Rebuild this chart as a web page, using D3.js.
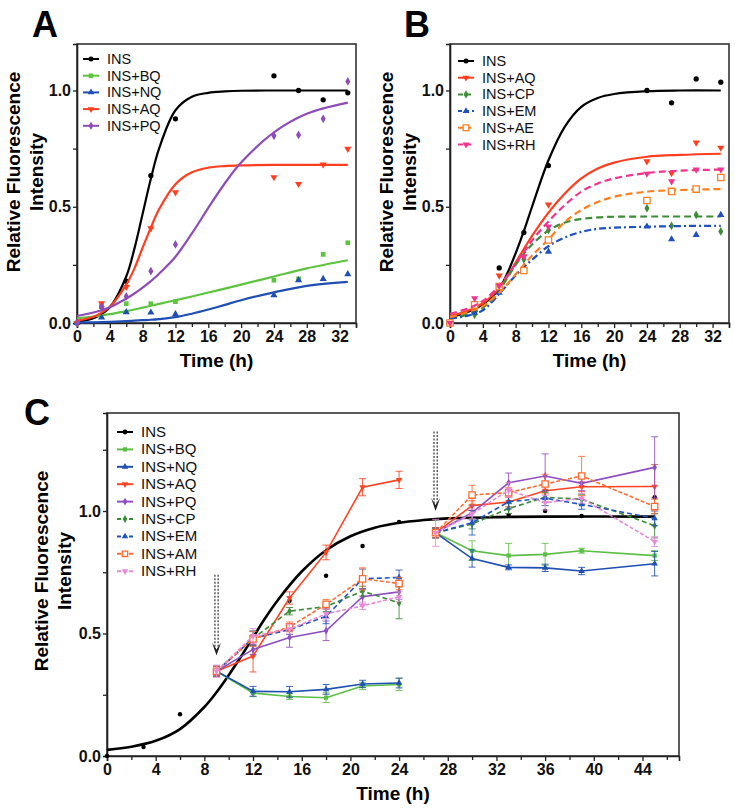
<!DOCTYPE html>
<html>
<head>
<meta charset="utf-8">
<script src="https://cdn.jsdelivr.net/npm/d3@7"></script>
<style>
  body { margin: 0; background: #fff; }
  svg { display: block; font-family: Arial, "Liberation Sans", sans-serif; }
</style>
</head>
<body>
<svg id="fig" width="735" height="811"></svg>
<script>
// ---------- data ----------
var timesAB = [0, 3, 6, 9, 12, 24, 27, 30, 33]
var fitT = [0, 2, 4, 6, 7, 8, 9, 10, 12, 14, 16, 18, 20, 24, 28, 33]

// panel A, measured points
var insA = [0, 0.07, 0.18, 0.634, 0.878, 1.063, 1.0, 0.96, 0.99]
var bqA = [0, 0.073, 0.083, 0.083, 0.092, 0.184, 0.19, 0.295, 0.345]
var nqA = [0, 0.024, 0.047, 0.045, 0.038, 0.12, 0.184, 0.19, 0.21]
var aqA = [0, 0.085, 0.155, 0.407, 0.562, 0.627, 0.598, 0.682, 0.749]
var pqA = [0, 0.07, 0.115, 0.223, 0.338, 0.805, 0.809, 0.878, 1.039]
// panel A, fitted curves sampled at fitT
var insFitA = [0.006, 0.02, 0.068, 0.2, 0.32, 0.47, 0.62, 0.75, 0.915, 0.973, 0.99, 0.996, 0.999, 1, 1, 1]
var bqFitA = [0.02, 0.028, 0.038, 0.051, 0.058, 0.066, 0.074, 0.082, 0.098, 0.114, 0.131, 0.148, 0.165, 0.2, 0.235, 0.27]
var nqFitA = [0.002, 0.003, 0.005, 0.008, 0.01, 0.012, 0.014, 0.017, 0.025, 0.04, 0.058, 0.078, 0.098, 0.132, 0.16, 0.177]
var aqFitA = [0.01, 0.027, 0.07, 0.165, 0.235, 0.324, 0.41, 0.489, 0.597, 0.648, 0.668, 0.675, 0.678, 0.68, 0.68, 0.68]
var pqFitA = [0.03, 0.045, 0.068, 0.105, 0.127, 0.152, 0.18, 0.212, 0.285, 0.385, 0.495, 0.6, 0.69, 0.82, 0.9, 0.948]

// panel B, measured points
var insB = [0, 0.05, 0.237, 0.389, 0.677, 1.0, 0.947, 1.05, 1.036]
var aqB = [0, 0.07, 0.204, 0.286, 0.509, 0.695, 0.645, 0.776, 0.754]
var cpB = [0, 0.035, 0.157, 0.274, 0.4, 0.494, 0.418, 0.465, 0.394]
var emB = [0, 0.044, 0.13, 0.24, 0.307, 0.415, 0.36, 0.379, 0.465]
var aeB = [0, 0.078, 0.157, 0.226, 0.357, 0.527, 0.566, 0.576, 0.626]
var rhB = [0, 0.106, 0.16, 0.286, 0.415, 0.642, 0.609, 0.66, 0.66]
// panel B, fitted curves
var insFitB = [0.025, 0.045, 0.08, 0.148, 0.215, 0.3, 0.395, 0.5, 0.7, 0.845, 0.93, 0.968, 0.985, 0.997, 1, 1]
var aqFitB = [0.03, 0.05, 0.085, 0.15, 0.2, 0.26, 0.318, 0.375, 0.475, 0.557, 0.622, 0.665, 0.69, 0.715, 0.723, 0.728]
var cpFitB = [0.019, 0.035, 0.065, 0.14, 0.195, 0.25, 0.298, 0.338, 0.398, 0.432, 0.447, 0.454, 0.457, 0.458, 0.458, 0.458]
var emFitB = [0.019, 0.03, 0.055, 0.125, 0.165, 0.205, 0.24, 0.272, 0.33, 0.368, 0.392, 0.405, 0.41, 0.414, 0.417, 0.418]
var aeFitB = [0.025, 0.045, 0.072, 0.13, 0.168, 0.21, 0.25, 0.29, 0.36, 0.435, 0.486, 0.52, 0.543, 0.565, 0.572, 0.576]
var rhFitB = [0.04, 0.06, 0.095, 0.159, 0.205, 0.255, 0.305, 0.355, 0.437, 0.507, 0.565, 0.6, 0.622, 0.645, 0.655, 0.66]

// panel C
var tInsC = [0, 3, 6, 15, 18, 21, 24, 33, 36, 39, 45]
var insC = [0, 0.037, 0.17, 0.634, 0.736, 0.857, 0.955, 0.984, 1.0, 0.98, 1.056]
var fitTC = [0, 2, 4, 6, 8, 9, 10, 11, 12, 13, 14, 16, 18, 20, 22, 24, 26, 28, 32, 36, 45]
var insFitC = [0.025, 0.038, 0.062, 0.11, 0.2, 0.26, 0.33, 0.405, 0.484, 0.563, 0.634, 0.753, 0.84, 0.897, 0.932, 0.952, 0.963, 0.97, 0.975, 0.977, 0.977]

var tC1 = [9, 12, 15, 18, 21, 24]
var tC2 = [27, 30, 33, 36, 39, 45]
var bqC1 = [0.346, 0.257, 0.243, 0.238, 0.286, 0.292], bqE1 = [0.02, 0.015, 0.012, 0.02, 0.015, 0.025]
var nqC1 = [0.346, 0.264, 0.262, 0.272, 0.294, 0.298], nqE1 = [0.02, 0.02, 0.022, 0.02, 0.015, 0.02]
var aqC1 = [0.346, 0.408, 0.645, 0.831, 1.097, 1.127], aqE1 = [0.02, 0.065, 0.025, 0.03, 0.035, 0.035]
var pqC1 = [0.346, 0.435, 0.484, 0.511, 0.65, 0.67], pqE1 = [0.02, 0.02, 0.04, 0.04, 0.03, 0.03]
var cpC1 = [0.346, 0.48, 0.591, 0.61, 0.673, 0.625], cpE1 = [0.02, 0.03, 0.015, 0.02, 0.02, 0.065]
var emC1 = [0.346, 0.48, 0.516, 0.57, 0.723, 0.729], emE1 = [0.02, 0.03, 0.02, 0.03, 0.04, 0.03]
var amC1 = [0.346, 0.478, 0.527, 0.619, 0.723, 0.704], amE1 = [0.02, 0.03, 0.02, 0.02, 0.045, 0.025]
var rhC1 = [0.346, 0.49, 0.518, 0.58, 0.613, 0.65], rhE1 = [0.025, 0.03, 0.02, 0.02, 0.015, 0.02]

var bqC2 = [0.911, 0.838, 0.818, 0.823, 0.838, 0.818], bqE2 = [0.02, 0.04, 0.05, 0.045, 0.01, 0.02]
var nqC2 = [0.911, 0.806, 0.77, 0.768, 0.755, 0.785], nqE2 = [0.02, 0.035, 0.01, 0.015, 0.015, 0.05]
var aqC2 = [0.911, 1.022, 1.037, 1.083, 1.099, 1.1], aqE2 = [0.02, 0.02, 0.02, 0.03, 0.02, 0.09]
var pqC2 = [0.911, 0.993, 1.115, 1.143, 1.113, 1.178], pqE2 = [0.02, 0.03, 0.04, 0.09, 0.03, 0.125]
var cpC2 = [0.911, 0.947, 1.01, 1.056, 1.048, 0.94], cpE2 = [0.02, 0.02, 0.02, 0.02, 0.02, 0.05]
var emC2 = [0.911, 0.952, 1.038, 1.052, 1.027, 0.97], emE2 = [0.02, 0.05, 0.03, 0.03, 0.02, 0.03]
var amC2 = [0.911, 1.065, 1.075, 1.11, 1.143, 1.018], amE2 = [0.02, 0.04, 0.02, 0.04, 0.08, 0.03]
var rhC2 = [0.911, 0.988, 1.085, 1.034, 1.052, 0.875], rhE2 = [0.055, 0.02, 0.03, 0.03, 0.02, 0.02]

// dotted arrows in C (time, start value, tip value)
var arrowsC = [[9, 0.74, 0.41], [27, 1.325, 1.0]]

var xTicksAB = [0, 4, 8, 12, 16, 20, 24, 28, 32]
var xTicksC = [0, 4, 8, 12, 16, 20, 24, 28, 32, 36, 40, 44]

// ---------- drawing ----------
const svg = d3.select('#fig')
const smooth = d3.curveCatmullRom.alpha(0.5)

function symPath(type, size) {
    var types = { circle: d3.symbolCircle, square: d3.symbolSquare, tri: d3.symbolTriangle,
                  down: d3.symbolTriangle, diamond: d3.symbolDiamond }
    return d3.symbol().type(types[type]).size(size)()
}

function marker(g, type, cx, cy, color, size, hollow) {
    g.append("path")
        .attr("d", symPath(type, size))
        .attr("transform", "translate(" + cx + "," + cy + ")" + (type == "down" ? " rotate(180)" : ""))
        .attr("fill", hollow ? "#fff" : color)
        .attr("stroke", hollow ? color : "none")
        .attr("stroke-width", 1.3)
}

function frameAndAxes(g, x, y, xMajor, yMajor, yMinor) {
    var xr = x.range(), yr = y.range()
    var xMinor = xMajor.map(d => d + 2).filter(d => d <= x.domain()[1])

    g.append("rect")
        .attr("x", xr[0]).attr("y", yr[1])
        .attr("width", xr[1] - xr[0]).attr("height", yr[0] - yr[1])
        .attr("fill", "none").attr("stroke", "#333").attr("stroke-width", 1.6)

    var ax = g.append("g").attr("transform", "translate(0," + yr[0] + ")")
        .call(d3.axisBottom(x).tickValues(xMajor).tickSize(5).tickPadding(3).tickFormat(d3.format("d")))
    g.append("g").attr("transform", "translate(0," + yr[0] + ")")
        .call(d3.axisBottom(x).tickValues(xMinor).tickSize(4).tickFormat(""))
        .call(s => s.select(".domain").remove())
    var ay = g.append("g").attr("transform", "translate(" + xr[0] + ",0)")
        .call(d3.axisLeft(y).tickValues(yMajor).tickSize(4).tickPadding(2).tickFormat(d3.format(".1f")))
    g.append("g").attr("transform", "translate(" + xr[0] + ",0)")
        .call(d3.axisLeft(y).tickValues(yMinor).tickSize(4).tickFormat(""))
        .call(s => s.select(".domain").remove())

    g.selectAll(".domain").attr("stroke", "#222").attr("stroke-width", 1.6)
    g.selectAll(".tick line").attr("stroke", "#222").attr("stroke-width", 1.3)
    ax.selectAll("text").attr("font-size", 16).attr("font-weight", "bold").attr("fill", "#111")
        .attr("font-family", "Arial, Liberation Sans, sans-serif")
    ay.selectAll("text").attr("font-size", 16).attr("font-weight", "bold").attr("fill", "#111")
        .attr("font-family", "Arial, Liberation Sans, sans-serif")
}

function labels(letter, lx, ly, yl1, yl2, ycen, xcen, xb) {
    svg.append("text").attr("x", lx).attr("y", ly).text(letter)
        .attr("font-size", 36).attr("font-weight", "bold")
    svg.append("text").attr("transform", "translate(" + yl1 + "," + ycen + ") rotate(-90)")
        .attr("text-anchor", "middle").attr("font-size", 19).attr("font-weight", "bold")
        .text("Relative Fluorescence")
    svg.append("text").attr("transform", "translate(" + yl2 + "," + ycen + ") rotate(-90)")
        .attr("text-anchor", "middle").attr("font-size", 19).attr("font-weight", "bold")
        .text("Intensity")
    svg.append("text").attr("x", xcen).attr("y", xb).attr("text-anchor", "middle")
        .attr("font-size", 19).attr("font-weight", "bold").text("Time (h)")
}

function legend(g, series, x0, y0, step, fs, msize) {
    series.forEach(function(s, i) {
        var yy = y0 + i * step
        g.append("line").attr("x1", x0).attr("x2", x0 + 16).attr("y1", yy).attr("y2", yy)
            .attr("stroke", s.color).attr("stroke-width", 2)
            .attr("stroke-dasharray", s.dash ? s.legDash || "4,2" : null)
        marker(g, s.sym, x0 + 8, yy, s.color, s.hollow ? msize * 1.6 : msize, s.hollow)
        g.append("text").attr("x", x0 + 24).attr("y", yy + 5).attr("font-size", fs)
            .attr("fill", "#111").text(s.name)
    })
}

// ---- Panel A and B share the same kind of layout ----
function fitPanel(series, left, right, letter, lx, yl1, yl2, legX, legY) {
    var x = d3.scaleLinear().domain([0, 34]).range([left, right])
    var y = d3.scaleLinear().domain([0, 1.2]).range([323, 44])
    var g = svg.append("g")
    frameAndAxes(g, x, y, xTicksAB, [0, 0.5, 1.0], [0.25, 0.75])

    var line = d3.line().x(d => x(d[0])).y(d => y(d[1])).curve(smooth)
    series.forEach(function(s) {
        g.append("path")
            .datum(fitT.map((t, i) => [t, s.fit[i]]))
            .attr("d", line)
            .attr("fill", "none").attr("stroke", s.color).attr("stroke-width", 2.2)
            .attr("stroke-dasharray", s.dash || null)
        timesAB.forEach(function(t, i) {
            marker(g, s.sym, x(t), y(s.pts[i]), s.color, s.hollow ? 40 : 22, s.hollow)
        })
    })
    legend(g, series, legX, legY, 16.7, 14.5, 20)
    labels(letter, lx, 37, yl1, yl2, 172, (left + right) / 2, 367)
}

var seriesA = [
    { name: "INS", pts: insA, fit: insFitA, color: "#000000", sym: "circle" },
    { name: "INS+BQ", pts: bqA, fit: bqFitA, color: "#5cc43e", sym: "square" },
    { name: "INS+NQ", pts: nqA, fit: nqFitA, color: "#1f4fb5", sym: "tri" },
    { name: "INS+AQ", pts: aqA, fit: aqFitA, color: "#ff3d1f", sym: "down" },
    { name: "INS+PQ", pts: pqA, fit: pqFitA, color: "#8e4cb8", sym: "diamond" }
]
var seriesB = [
    { name: "INS", pts: insB, fit: insFitB, color: "#000000", sym: "circle" },
    { name: "INS+AQ", pts: aqB, fit: aqFitB, color: "#ff3d1f", sym: "down" },
    { name: "INS+CP", pts: cpB, fit: cpFitB, color: "#3d8c37", sym: "diamond", dash: "7,4", legDash: "5,3" },
    { name: "INS+EM", pts: emB, fit: emFitB, color: "#1f50c0", sym: "tri", dash: "7,3,2,3", legDash: "4,3" },
    { name: "INS+AE", pts: aeB, fit: aeFitB, color: "#ff7f1e", sym: "square", hollow: true, dash: "7,4", legDash: "5,3" },
    { name: "INS+RH", pts: rhB, fit: rhFitB, color: "#f0338f", sym: "down", dash: "7,4", legDash: "5,3" }
]

fitPanel(seriesA, 77, 356, "A", 32, 20, 43, 83, 59)
fitPanel(seriesB, 450, 729, "B", 404, 393, 416, 458, 61)

// ---- Panel C ----
var xC = d3.scaleLinear().domain([0, 47]).range([107, 679])
var yC = d3.scaleLinear().domain([0, 1.4]).range([756, 413])
var gC = svg.append("g")
frameAndAxes(gC, xC, yC, xTicksC, [0, 0.5, 1.0], [0.25, 0.75, 1.25])

var seriesC = [
    { name: "INS", color: "#000000", sym: "circle" },
    { name: "INS+BQ", v1: bqC1, e1: bqE1, v2: bqC2, e2: bqE2, color: "#5cbf45", sym: "square" },
    { name: "INS+NQ", v1: nqC1, e1: nqE1, v2: nqC2, e2: nqE2, color: "#1f4fb0", sym: "tri" },
    { name: "INS+AQ", v1: aqC1, e1: aqE1, v2: aqC2, e2: aqE2, color: "#ff4422", sym: "down" },
    { name: "INS+PQ", v1: pqC1, e1: pqE1, v2: pqC2, e2: pqE2, color: "#8e4fc0", sym: "diamond" },
    { name: "INS+CP", v1: cpC1, e1: cpE1, v2: cpC2, e2: cpE2, color: "#3b8a35", sym: "diamond", dash: "5,3" },
    { name: "INS+EM", v1: emC1, e1: emE1, v2: emC2, e2: emE2, color: "#2155c0", sym: "tri", dash: "5,3" },
    { name: "INS+AM", v1: amC1, e1: amE1, v2: amC2, e2: amE2, color: "#ff6a30", sym: "square", hollow: true, dash: "4,2" },
    { name: "INS+RH", v1: rhC1, e1: rhE1, v2: rhC2, e2: rhE2, color: "#e88ad8", sym: "down", dash: "4,2" }
]

gC.append("path")
    .datum(fitTC.map((t, i) => [t, insFitC[i]]))
    .attr("d", d3.line().x(d => xC(d[0])).y(d => yC(d[1])).curve(smooth))
    .attr("fill", "none").attr("stroke", "#000").attr("stroke-width", 2.6)
tInsC.forEach(function(t, i) { marker(gC, "circle", xC(t), yC(insC[i]), "#000", 16) })

var lineC = d3.line().x(d => xC(d[0])).y(d => yC(d[1]))
seriesC.slice(1).forEach(function(s) {
    [[tC1, s.v1, s.e1], [tC2, s.v2, s.e2]].forEach(function(ph) {
        var ts = ph[0], vs = ph[1], es = ph[2]
        ts.forEach(function(t, i) {
            var cx = xC(t)
            gC.append("path")
                .attr("d", "M" + (cx - 3.5) + "," + yC(vs[i] + es[i]) + "h7M" + cx + "," + yC(vs[i] + es[i]) +
                           "V" + yC(vs[i] - es[i]) + "M" + (cx - 3.5) + "," + yC(vs[i] - es[i]) + "h7")
                .attr("stroke", s.color).attr("stroke-width", 1).attr("fill", "none").attr("opacity", 0.85)
        })
        gC.append("path")
            .datum(ts.map((t, i) => [t, vs[i]]))
            .attr("d", lineC)
            .attr("fill", "none").attr("stroke", s.color).attr("stroke-width", 1.6)
            .attr("stroke-dasharray", s.dash || null)
        ts.forEach(function(t, i) {
            marker(gC, s.sym, xC(t), yC(vs[i]), s.color, s.hollow ? 40 : 18, s.hollow)
        })
    })
})

arrowsC.forEach(function(a) {
    var cx = xC(a[0]), y0 = yC(a[1]), tip = yC(a[2])
    ;[-1.6, 1.6].forEach(function(dx) {
        gC.append("line").attr("x1", cx + dx).attr("x2", cx + dx).attr("y1", y0).attr("y2", tip - 6)
            .attr("stroke", "#444").attr("stroke-width", 1.3).attr("stroke-dasharray", "2,1.5")
    })
    gC.append("path")
        .attr("d", "M" + (cx - 4.5) + "," + (tip - 13) + "L" + cx + "," + tip + "L" + (cx + 4.5) + "," + (tip - 13) +
                   "L" + cx + "," + (tip - 6) + "Z")
        .attr("fill", "#222")
})

legend(gC, seriesC, 117, 432, 17.4, 15, 18)
labels("C", 24, 425, 48, 71, 571, 393, 800)
</script>
</body>
</html>
